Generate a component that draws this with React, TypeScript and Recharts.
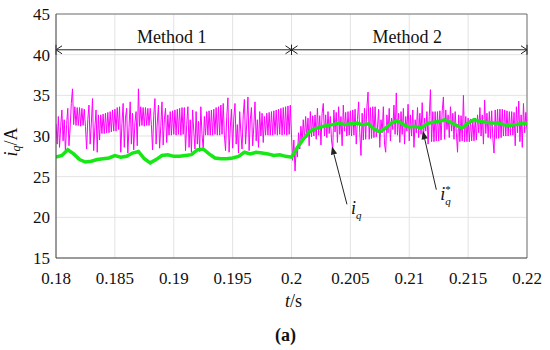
import React from 'react';
import { ComposedChart, Line, XAxis, YAxis, CartesianGrid, ReferenceLine, Label } from 'recharts';

// sampling of the two traces (s)
const T0 = 0.18;
const IQ_STEP = 0.0001;
const REF_STEP = 0.0005;

// measured i_q (A), one value every 0.1 ms
const iqValues = [
  31.5, 29.0, 32.4, 28.6, 31.2, 33.2, 29.4, 32.0, 28.0, 31.4, 33.4, 28.8, 31.0, 34.0, 35.8, 31.4, 33.6, 31.3, 33.5, 31.3,
  33.5, 31.2, 33.4, 31.3, 33.3, 31.2, 28.4, 32.0, 33.8, 29.0, 31.5, 34.6, 28.2, 31.0, 33.2, 28.0, 32.6, 29.5, 32.6, 30.3,
  32.7, 30.3, 32.8, 30.4, 32.9, 30.4, 33.0, 30.5, 33.2, 30.6, 33.3, 30.6, 33.5, 30.8, 33.6, 28.0, 31.5, 34.0, 28.6, 32.2,
  33.4, 27.9, 31.0, 34.2, 29.0, 32.8, 28.3, 31.6, 33.0, 28.8, 35.8, 31.2, 33.6, 31.3, 33.5, 31.2, 33.5, 31.3, 33.4, 31.3,
  33.4, 31.4, 28.3, 32.5, 34.6, 29.0, 31.6, 33.8, 28.5, 31.2, 34.2, 28.9, 32.0, 33.4, 29.2, 32.6, 30.1, 33.0, 30.1, 33.1,
  30.2, 33.2, 30.1, 33.3, 30.2, 33.4, 30.1, 33.5, 30.2, 33.5, 28.2, 31.4, 33.6, 28.6, 32.0, 28.0, 33.2, 30.6, 28.4, 33.0,
  29.0, 31.8, 28.1, 33.6, 30.2, 28.4, 32.4, 30.1, 33.0, 30.1, 33.1, 30.1, 33.2, 30.1, 33.3, 30.2, 33.5, 30.1, 33.6, 30.1,
  33.8, 30.2, 34.0, 30.1, 28.2, 32.4, 34.7, 28.0, 31.0, 33.3, 28.5, 32.2, 34.0, 29.0, 31.4, 27.9, 33.0, 30.4, 28.4, 32.6,
  34.5, 29.0, 31.6, 34.8, 28.2, 32.0, 33.5, 28.8, 31.2, 34.2, 29.4, 32.0, 28.6, 33.0, 30.0, 32.8, 29.2, 32.4, 30.1, 32.8,
  30.1, 32.9, 30.1, 33.0, 30.1, 33.1, 30.2, 33.2, 30.1, 33.3, 30.2, 33.4, 30.1, 33.5, 30.2, 33.6, 30.1, 33.7, 30.2, 33.8,
  30.0, 27.0, 29.5, 25.7, 28.6, 27.4, 30.4, 28.4, 31.2, 29.2, 32.0, 29.6, 32.4, 29.8, 32.2, 28.8, 33.0, 29.9, 32.5, 30.0,
  32.6, 29.6, 33.4, 30.1, 32.5, 28.9, 32.8, 34.0, 30.0, 32.6, 29.8, 33.0, 30.3, 32.4, 29.4, 28.4, 33.2, 30.5, 32.9, 29.2,
  33.6, 30.2, 32.4, 28.8, 33.8, 30.6, 32.9, 30.0, 33.0, 30.1, 33.1, 30.0, 33.2, 30.1, 33.3, 29.0, 32.0, 34.2, 30.4, 27.6,
  32.8, 29.5, 33.4, 29.6, 33.5, 35.4, 29.6, 33.5, 29.7, 33.6, 29.8, 33.6, 29.9, 31.0, 33.3, 28.6, 32.0, 30.4, 33.6, 29.0,
  28.0, 32.6, 30.4, 33.4, 29.4, 32.2, 30.8, 33.8, 30.2, 35.3, 30.1, 32.8, 29.2, 33.0, 30.2, 33.4, 29.0, 32.4, 30.6, 33.9,
  29.4, 32.6, 30.0, 33.2, 28.6, 32.0, 30.4, 33.5, 29.8, 32.8, 30.2, 34.1, 29.6, 32.2, 30.6, 33.0, 29.0, 32.4, 35.7, 29.3,
  33.0, 29.3, 33.0, 29.4, 33.0, 29.4, 33.1, 29.5, 33.1, 34.8, 29.6, 33.2, 30.8, 32.6, 29.8, 33.6, 30.6, 32.8, 29.6, 33.0,
  30.4, 28.0, 32.6, 29.3, 32.5, 29.4, 35.0, 29.3, 32.4, 29.3, 32.2, 29.3, 32.1, 29.4, 32.0, 29.4, 32.2, 29.5, 32.6, 30.4,
  33.5, 30.0, 32.6, 29.0, 34.4, 30.3, 32.8, 29.8, 33.0, 29.7, 33.1, 29.7, 27.9, 33.2, 29.7, 33.3, 29.7, 33.3, 29.8, 33.3,
  30.0, 33.2, 30.0, 33.1, 30.0, 33.0, 30.1, 33.0, 30.1, 32.9, 28.8, 33.6, 30.4, 34.3, 29.3, 32.6, 28.6, 34.0, 30.4, 32.9,
  30.8,
];

// reference i_q* (A), one value every 0.5 ms
const iqRefValues = [
  27.4, 27.6, 28.3, 27.8, 27.1, 26.8, 26.9, 27.1, 27.2, 27.3,
  27.6, 27.4, 27.5, 27.9, 28.1, 27.2, 26.7, 27.1, 27.6, 27.7,
  27.5, 27.5, 27.6, 27.7, 28.3, 28.4, 27.8, 27.3, 27.2, 27.2,
  27.3, 27.5, 28.0, 27.8, 28.0, 27.9, 27.8, 27.6, 27.7, 27.5,
  27.4, 28.6, 29.6, 30.5, 30.9, 31.1, 31.3, 31.4, 31.6, 31.4,
  31.5, 31.6, 31.4, 31.5, 30.9, 30.5, 31.0, 31.6, 31.9, 31.4,
  31.1, 31.2, 31.0, 31.5, 31.7, 31.8, 32.0, 31.7, 31.3, 31.0,
  31.6, 32.0, 31.8, 31.7, 31.6, 31.6, 31.4, 31.3, 31.4, 31.5,
  31.6,
];

const xTicks = [0.18, 0.185, 0.19, 0.195, 0.2, 0.205, 0.21, 0.215, 0.22];
const yTicks = [15, 20, 25, 30, 35, 40, 45];

const methodLevel = 40.6;
const methods = [
  { name: 'Method 1', from: 0.18, to: 0.2 },
  { name: 'Method 2', from: 0.2, to: 0.22 },
];

// annotation arrows: tail (label end) -> head
const pointers = [
  { key: 'iq', star: false, tail: { t: 0.20471, v: 21.6 }, head: { t: 0.20344, v: 28.7 } },
  { key: 'iqref', star: true, tail: { t: 0.2123, v: 23.4 }, head: { t: 0.21116, v: 30.6 } },
];

const iqData = iqValues.map((v, i) => ({ t: +(T0 + i * IQ_STEP).toFixed(4), v }));
const refData = iqRefValues.map((v, i) => ({ t: +(T0 + i * REF_STEP).toFixed(4), v }));

const FONT = '"Liberation Serif", "Times New Roman", serif';

const XTick = (p: any) => (
  <text x={p.x} y={p.y} dy="0.71em" textAnchor="middle" fontSize={17} fontFamily={FONT} fill="#111">
    {p.payload.value}
  </text>
);

const YTick = (p: any) => (
  <text x={p.x} y={p.y} dy="0.355em" textAnchor="end" fontSize={17} fontFamily={FONT} fill="#111">
    {p.payload.value}
  </text>
);

const MethodSpan = (name: string) => (p: any) => {
  const { x1, y1, x2 } = p;
  const y = y1;
  const ah = 6;
  return (
    <g stroke="#222" strokeWidth={1}>
      <line x1={x1} y1={y} x2={x2} y2={y} />
      <line x1={x1} y1={y - 5} x2={x1} y2={y + 5} />
      <line x1={x2} y1={y - 5} x2={x2} y2={y + 5} />
      <polyline points={`${x1 + ah},${y - 4} ${x1},${y} ${x1 + ah},${y + 4}`} fill="none" />
      <polyline points={`${x2 - ah},${y - 4} ${x2},${y} ${x2 - ah},${y + 4}`} fill="none" />
      <text x={(x1 + x2) / 2 - 2} y={y - 7} textAnchor="middle" fontSize={18} fontFamily={FONT} fill="#111" stroke="none">
        {name}
      </text>
    </g>
  );
};

const Pointer = (star: boolean) => (p: any) => {
  const { x1, y1, x2, y2 } = p;
  const dx = x2 - x1;
  const dy = y2 - y1;
  const len = Math.sqrt(dx * dx + dy * dy);
  const ux = dx / len;
  const uy = dy / len;
  const hl = 8;
  const hw = 3.2;
  const bx = x2 - ux * hl;
  const by = y2 - uy * hl;
  const head = `${x2},${y2} ${bx - uy * hw},${by + ux * hw} ${bx + uy * hw},${by - ux * hw}`;
  const lx = x1 + 4;
  const ly = y1 + 10;
  return (
    <g>
      <line x1={x1} y1={y1} x2={bx} y2={by} stroke="#222" strokeWidth={1} />
      <polygon points={head} fill="#222" />
      <text x={lx} y={ly} fontSize={18} fontStyle="italic" fontFamily={FONT} fill="#111">i</text>
      <text x={lx + 5} y={ly + 5} fontSize={11} fontStyle="italic" fontFamily={FONT} fill="#111">q</text>
      {star && (
        <text x={lx + 5} y={ly - 7} fontSize={11} fontFamily={FONT} fill="#111">*</text>
      )}
    </g>
  );
};

const YTitle = () => {
  const cx = 17;
  const cy = 142;
  return (
    <text
      x={cx}
      y={cy}
      transform={`rotate(-90, ${cx}, ${cy})`}
      textAnchor="middle"
      fontSize={18}
      fontFamily={FONT}
      fill="#111"
    >
      <tspan fontStyle="italic">i</tspan>
      <tspan fontStyle="italic" fontSize={12} dy={3}>q</tspan>
      <tspan dy={-3}>/A</tspan>
    </text>
  );
};

const XTitle = (p: any) => {
  const vb = p.viewBox;
  const cx = vb.x + vb.width / 2;
  return (
    <g fontFamily={FONT} fill="#111">
      <text x={cx + 2} y={vb.y + 49} textAnchor="middle" fontSize={18}>
        <tspan fontStyle="italic">t</tspan>
        <tspan>/s</tspan>
      </text>
      <text x={cx - 6} y={vb.y + 83} textAnchor="middle" fontSize={18} fontWeight="bold">
        (a)
      </text>
    </g>
  );
};

const App = () => {
  return (
    <div style={{ position: 'absolute', left: 0, top: 0, background: '#fff', fontFamily: FONT }}>
      <ComposedChart
        width={550}
        height={350}
        margin={{ top: 14, right: 23, left: 10, bottom: 62 }}
        style={{ fontFamily: FONT }}
      >
        <CartesianGrid stroke="#e3e3e3" />
        <XAxis
          dataKey="t"
          type="number"
          domain={[0.18, 0.22]}
          ticks={xTicks}
          allowDataOverflow
          height={30}
          tickSize={6}
          tickMargin={8}
          tickLine={false}
          stroke="#444"
          tick={XTick}
        >
          <Label content={XTitle} />
        </XAxis>
        <YAxis
          type="number"
          domain={[15, 45]}
          ticks={yTicks}
          allowDataOverflow
          width={46}
          tickSize={3}
          tickMargin={3}
          tickLine={false}
          stroke="#444"
          tick={YTick}
        >
          <Label content={YTitle} />
        </YAxis>
        <ReferenceLine y={45} stroke="#777" />
        <ReferenceLine x={0.22} stroke="#777" />
        <Line
          data={iqData}
          dataKey="v"
          type="linear"
          stroke="#ff00ff"
          strokeWidth={1}
          dot={false}
          isAnimationActive={false}
        />
        <Line
          data={refData}
          dataKey="v"
          type="linear"
          stroke="#16e816"
          strokeWidth={3.5}
          dot={false}
          isAnimationActive={false}
        />
        {methods.map((m) => (
          <ReferenceLine
            key={m.name}
            segment={[{ x: m.from, y: methodLevel }, { x: m.to, y: methodLevel }]}
            shape={MethodSpan(m.name)}
          />
        ))}
        {pointers.map((pt) => (
          <ReferenceLine
            key={pt.key}
            segment={[{ x: pt.tail.t, y: pt.tail.v }, { x: pt.head.t, y: pt.head.v }]}
            shape={Pointer(pt.star)}
          />
        ))}
      </ComposedChart>
    </div>
  );
};

export default App;
